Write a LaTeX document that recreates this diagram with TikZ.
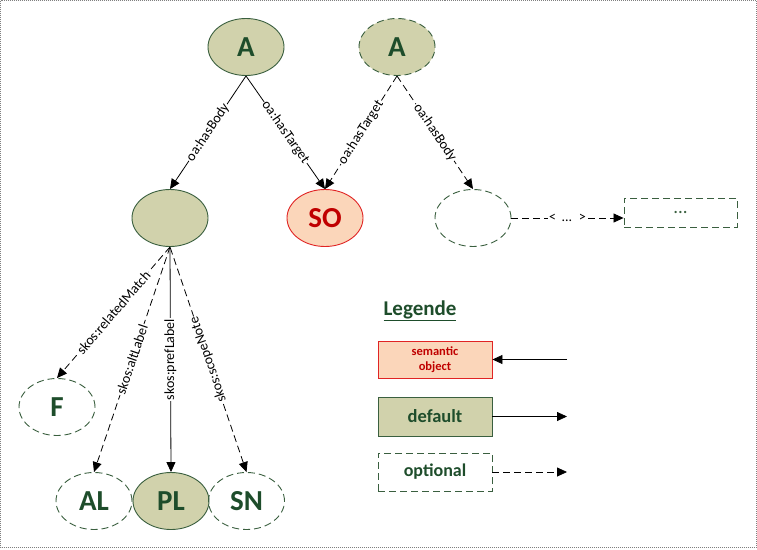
\documentclass[tikz,border=0pt]{standalone}
\usepackage{fontspec}
\setmainfont{Carlito}
\usetikzlibrary{shapes.geometric,arrows.meta}
\definecolor{cFill}{HTML}{D1D2AC}
\definecolor{cLine}{HTML}{3A5F3F}
\definecolor{cText}{HTML}{1E4D2B}
\definecolor{cSOFill}{HTML}{FBD6BA}
\definecolor{cSOLine}{HTML}{E02424}
\definecolor{cSOText}{HTML}{C00000}
\tikzset{
  dsh/.style={dash pattern=on 7pt off 4pt},
  ell/.style={ellipse, minimum width=76pt, minimum height=57pt, inner sep=0pt, line width=0.9pt,
    font=\bfseries\fontsize{29}{30}\selectfont, text=cText},
  defell/.style={ell, draw=cLine, fill=cFill},
  optell/.style={ell, draw=cLine, dsh},
  soell/.style={ell, draw=cSOLine, fill=cSOFill, text=cSOText},
  rel/.style={-{Triangle[length=10pt,width=9pt]}, line width=0.8pt},
  labfont/.style={font=\fontsize{14}{15}\selectfont},
  lab/.style={midway, sloped, fill=white, inner sep=1pt, labfont},
  legbox/.style={rectangle, minimum width=114pt, minimum height=37pt, inner sep=0pt, line width=0.9pt, font=\bfseries, text=cText},
}
\begin{document}
\begin{tikzpicture}[x=1pt,y=-1pt]
\useasboundingbox (0,0) rectangle (757,549);
\draw[gray, densely dotted, line width=1pt] (0.5,0.5) rectangle (756,547.5);

% nodes
\node[defell] (A1) at (246,47) {A};
\node[defell, dsh] (A2) at (397,47) {A};
\node[defell] (B) at (170,218) {};
\node[soell] (SO) at (325,218) {SO};
\node[optell] (B2) at (473,218) {};
\node[rectangle, draw=cLine, dsh, line width=0.9pt, minimum width=113pt, minimum height=29pt, inner sep=0pt,
      text=cLine, font=\fontsize{19}{20}\selectfont] (R) at (680.5,212.5) {...};
\node[optell] (F) at (57,407) {F};
\node[optell] (AL) at (94,501) {AL};
\node[defell] (PL) at (171,501) {PL};
\node[optell] (SN) at (246.5,501) {SN};

% edges
\draw[rel] (A1.south) -- node[lab] {oa:hasBody} (B.north);
\draw[rel] (A1.south) -- node[lab] {oa:hasTarget} (SO.north);
\draw[rel, dsh] (A2.south) -- node[lab] {oa:hasTarget} (SO.north);
\draw[rel, dsh] (A2.south) -- node[lab] {oa:hasBody} (B2.north);
\draw[rel, dsh] (B2.east) -- node[lab] {<\, ...\, >} (B2.east -| R.west);
\draw[rel, dsh] (B.south) -- node[lab] {skos:relatedMatch} (F.north);
\draw[rel, dsh] (B.south) -- node[lab] {skos:altLabel} (AL.north);
\draw[rel] (B.south) -- node[midway, rotate=90, fill=white, inner sep=1pt, labfont] {skos:prefLabel} (PL.north);
\draw[{Triangle[length=10pt,width=9pt]}-, line width=0.8pt, dsh] (SN.north) -- node[lab, allow upside down] {skos:scopeNote} (B.south);

% legend
\node[text=cText, font=\bfseries\fontsize{21}{22}\selectfont] (L) at (420,311) {\underline{Legende}};
\node[legbox, draw=cSOLine, fill=cSOFill, text=cSOText, font=\bfseries\fontsize{12.5}{15}\selectfont, align=center] (LS) at (435,359.5) {semantic\\object};
\node[legbox, draw=cLine, fill=cFill, font=\bfseries\fontsize{18.5}{20}\selectfont, minimum height=39pt] (LD) at (435,416.5) {default};
\node[legbox, draw=cLine, dsh, font=\bfseries\fontsize{18}{20}\selectfont, minimum height=38pt] (LO) at (435,472) {optional};
\coordinate (LSe) at (567,359.5);
\coordinate (LDe) at (567,416.5);
\coordinate (LOe) at (567,472);
\draw[rel] (LSe) -- (LS.east);
\draw[rel] (LD.east) -- (LDe);
\draw[rel, dsh] (LO.east) -- (LOe);
\end{tikzpicture}
\end{document}
